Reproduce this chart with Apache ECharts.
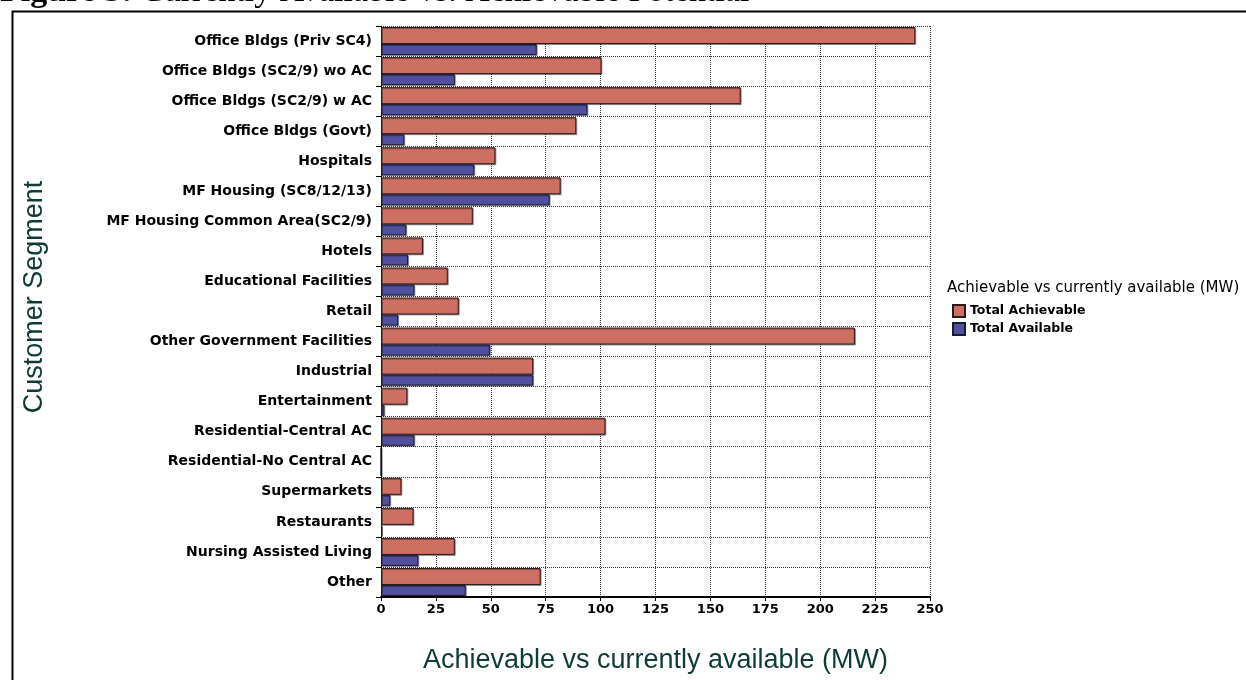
<!DOCTYPE html>
<html>
<head>
<meta charset="utf-8">
<script src="https://cdn.jsdelivr.net/npm/echarts@6/dist/echarts.min.js"></script>
<style>
html,body{margin:0;padding:0;background:#fff;}
#chart{width:1246px;height:680px;}
</style>
</head>
<body>
<div id="chart"></div>
<script>
var categories = [
  "Office Bldgs (Priv SC4)",
  "Office Bldgs (SC2/9) wo AC",
  "Office Bldgs (SC2/9) w AC",
  "Office Bldgs (Govt)",
  "Hospitals",
  "MF Housing (SC8/12/13)",
  "MF Housing Common Area(SC2/9)",
  "Hotels",
  "Educational Facilities",
  "Retail",
  "Other Government Facilities",
  "Industrial",
  "Entertainment",
  "Residential-Central AC",
  "Residential-No Central AC",
  "Supermarkets",
  "Restaurants",
  "Nursing Assisted Living",
  "Other"
];
var totalAchievable = [243.3, 100.4, 163.8, 88.9, 52.1, 81.8, 41.8, 19.1, 30.4, 35.4, 215.8, 69.3, 12.0, 102.2, 0, 9.3, 14.8, 33.6, 72.7];
var totalAvailable  = [70.9, 33.6, 94.0, 10.6, 42.5, 76.8, 11.5, 12.3, 15.2, 7.8, 49.6, 69.3, 1.5, 15.2, 0, 4.2, 0.5, 17.0, 38.6];
var xTicks = { min: 0, max: 250, interval: 25 };
var seriesNames = ["Total Achievable", "Total Available"];
var titleBold = "Figure 5:";
var titleText = "Currently Available vs. Achievable Potential";
var xAxisTitle = "Achievable vs currently available (MW)";
var yAxisTitle = "Customer Segment";
var legendTitle = "Achievable vs currently available (MW)";

var chart = echarts.init(document.getElementById('chart'), null, {renderer: 'canvas'});
var gridLine = { type: 'dotted', color: '#333', width: 1 };
var sans = "'Liberation Sans', Arial, sans-serif";
var wide = "'DejaVu Sans', Verdana, sans-serif";
var serif = "'Liberation Serif', 'Times New Roman', serif";
var barShadow = { shadowColor: 'rgba(0,0,0,0.35)', shadowOffsetX: 1, shadowOffsetY: 1, shadowBlur: 0 };

chart.setOption({
  animation: false,
  backgroundColor: '#fff',
  textStyle: { fontFamily: sans },
  graphic: [
    { type: 'rect', left: 10, top: 9, shape: { width: 1260, height: 700 },
      style: { fill: 'none', stroke: '#000', lineWidth: 2 }, silent: true, z: 0 },
    { type: 'text', left: 0, top: -25, z: 10,
      style: { text: '{b|' + titleBold + '} ' + titleText,
        rich: { b: { fontWeight: 'bold', fontFamily: serif, fontSize: 34, fill: '#000' } },
        font: "34px " + serif, fill: '#000' } },
    { type: 'text', left: 947, top: 281, z: 10,
      style: { text: legendTitle, font: "15px " + wide, fill: '#000' } },
    { type: 'text', x: 35, y: 297, rotation: Math.PI / 2, z: 10,
      style: { text: yAxisTitle, font: "27px " + sans, fill: '#0E3B35', align: 'center', verticalAlign: 'middle' } }
  ],
  grid: { left: 381, right: 316, top: 26, bottom: 83, containLabel: false },
  legend: {
    orient: 'vertical', left: 947, top: 299, itemWidth: 12, itemHeight: 12, itemGap: 4,
    icon: 'rect',
    textStyle: { fontFamily: wide, fontWeight: 'bold', fontSize: 12.5, color: '#000' },
    data: seriesNames
  },
  xAxis: {
    type: 'value', min: xTicks.min, max: xTicks.max, interval: xTicks.interval,
    axisLine: { show: true, lineStyle: { color: '#000', width: 2 } },
    axisTick: { show: true, length: 4, lineStyle: { color: '#000' } },
    axisLabel: { fontSize: 13, fontWeight: 'bold', color: '#000', margin: 6, fontFamily: wide },
    splitLine: { show: true, lineStyle: gridLine },
    name: xAxisTitle, nameLocation: 'middle', nameGap: 50,
    nameTextStyle: { fontSize: 27, color: '#0E3B35', fontFamily: sans }
  },
  yAxis: {
    type: 'category', data: categories, inverse: true,
    axisLine: { show: true, lineStyle: { color: '#000', width: 1 } },
    axisTick: { show: true, length: 5, lineStyle: { color: '#000' } },
    axisLabel: { fontSize: 14, fontWeight: 'bold', color: '#000', margin: 9, fontFamily: wide },
    splitLine: { show: true, lineStyle: gridLine }
  },
  series: [
    { name: seriesNames[0], type: 'bar', data: totalAchievable, barWidth: 17, barGap: '0%',
      itemStyle: Object.assign({ color: '#CD6F63', borderColor: '#2a1a18', borderWidth: 1 }, barShadow) },
    { name: seriesNames[1], type: 'bar', data: totalAvailable, barWidth: 11, barGap: '0%',
      itemStyle: Object.assign({ color: '#50509E', borderColor: '#1a1a30', borderWidth: 1 }, barShadow) }
  ]
});
</script>
</body>
</html>
